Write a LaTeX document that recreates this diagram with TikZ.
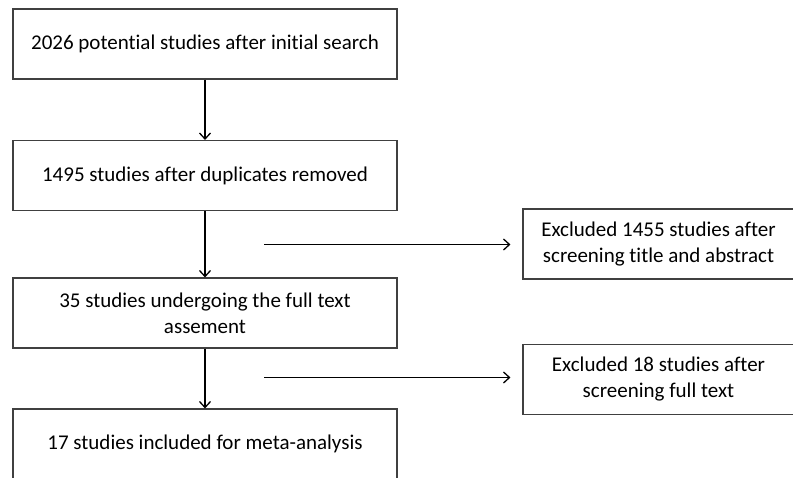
\documentclass[tikz,border=0pt]{standalone}
\usepackage{fontspec}
\setmainfont{Carlito}[Ligatures={NoCommon}]
\usetikzlibrary{arrows.meta}
\begin{document}
\begin{tikzpicture}[x=1pt,y=-1pt,
  box/.style={draw=black!75, line width=1.1pt, minimum height=70pt, inner sep=0pt,
    align=center, font=\fontsize{21}{26}\selectfont},
  mainbox/.style={box, minimum width=384pt},
  sidebox/.style={box, minimum width=271pt},
  arr/.style={line width=1.3pt, -{Straight Barb[length=6pt,width=11pt,line width=1.3pt]}}]
\useasboundingbox (0,0) rectangle (793,477);
\node[mainbox] (b1) at (205,44) {2026 potential studies after initial search};
\node[mainbox] (b2) at (205,175.5) {1495 studies after duplicates removed};
\node[mainbox] (b3) at (205,313) {35 studies undergoing the full text\\assement};
\node[mainbox] (b4) at (205,444) {17 studies included for meta-analysis};
\node[sidebox] (e1) at (658.5,244) {Excluded 1455 studies after\\screening title and abstract};
\node[sidebox] (e2) at (658.5,379.5) {Excluded 18 studies after\\screening full text};
\coordinate (h1) at (264,244.5);
\coordinate (h2) at (264,377.5);
\draw[arr] (b1.south) -- (b2.north);
\draw[arr] (b2.south) -- (b3.north);
\draw[arr] (b3.south) -- (b4.north);
\draw[arr, shorten >=12pt] (h1) -- (h1 -| e1.west);
\draw[arr, shorten >=12pt] (h2) -- (h2 -| e2.west);
\end{tikzpicture}
\end{document}
